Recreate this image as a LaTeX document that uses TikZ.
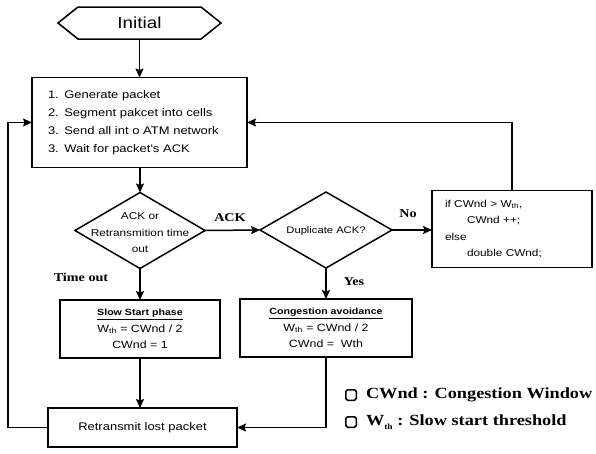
\documentclass[tikz,border=0pt]{standalone}
\usepackage{fontspec}
\setmainfont{Liberation Serif}[FakeStretch=1.18]
\newfontfamily\bx{Liberation Sans}[FakeStretch=1.18]
\usetikzlibrary{shapes.geometric,arrows.meta}
\begin{document}
\begin{tikzpicture}[x=1pt,y=-1pt,
  every node/.style={inner sep=0pt, outer sep=0pt},
  line width=1.5pt, line join=miter,
  arr/.style={-{Stealth[length=9pt,width=8pt,inset=1.5pt]}},
  box/.style={draw, rectangle, line width=1.5pt},
  dia/.style={draw, diamond, line width=1.5pt, minimum width=130pt, minimum height=76pt},
  btxt/.style={font=\bx\fontsize{11}{18}\selectfont},
  stxt/.style={font=\bx\fontsize{10}{16.5}\selectfont, align=center},
  lbl/.style={font=\bfseries\fontsize{12}{14}\selectfont},
  lgd/.style={font=\bfseries\fontsize{15.5}{17}\selectfont, anchor=west},
  sq/.style={draw, minimum size=10.5pt, rounded corners=1.8pt, line width=1.5pt}]
\useasboundingbox (0,0) rectangle (596,453);

% Initial hexagon
\node[minimum width=163pt, minimum height=32pt, font=\bx\fontsize{16}{16}\selectfont] (init) at (139.5,23) {Initial};
\draw (init.west) -- ([xshift=20pt]init.north west) -- ([xshift=-20pt]init.north east)
  -- (init.east) -- ([xshift=-20pt]init.south east) -- ([xshift=20pt]init.south west) -- cycle;

% Main box
\node[box, btxt, minimum width=215pt, minimum height=90pt, text width=183pt, align=left] (b1) at (139.5,122.5)
  {1. Generate packet\\2. Segment pakcet into cells\\3. Send all int o ATM network\\3. Wait for packet's ACK};

% Diamonds
\node[dia] (d1) at (140,230.5) {};
\node[stxt] (d1t) at (140,233) {ACK or\\Retransmition time\\out};
\node[dia, minimum width=132pt] (d2) at (326,230) {};
\node[font=\bx\fontsize{9.5}{12}\selectfont] (d2t) at (326,231) {Duplicate ACK?};

% Update box
\node[box, font=\bx\fontsize{10}{16.5}\selectfont, minimum width=160pt, minimum height=77pt, text width=134pt, align=left] (b3) at (512,229)
  {if CWnd > W\textsubscript{th},\\\hspace*{22pt}CWnd ++;\\else\\\hspace*{22pt}double CWnd;};

% Slow start and congestion avoidance
\node[box, stxt, font=\bx\fontsize{10.5}{16.5}\selectfont, minimum width=160pt, minimum height=58pt] (ss) at (140,329)
  {{\fontsize{9}{16.5}\selectfont\bfseries\underline{Slow Start phase}}\\W\textsubscript{th} = CWnd / 2\\CWnd = 1};
\node[box, stxt, font=\bx\fontsize{10.5}{16.5}\selectfont, minimum width=172pt, minimum height=58pt] (ca) at (326,328)
  {{\fontsize{9}{16.5}\selectfont\bfseries\underline{Congestion avoidance}}\\W\textsubscript{th} = CWnd / 2\\CWnd =\ \ Wth};

% Retransmit
\node[box, btxt, minimum width=189pt, minimum height=39pt] (rt) at (142.5,427.5) {Retransmit lost packet};

% Labels
\node[lbl] (lack) at (230,218) {ACK};
\node[lbl] (lno) at (408,214) {No};
\node[lbl] (lto) at (81,277) {Time out};
\node[lbl] (lyes) at (354,282) {Yes};

% Connectors
\draw[arr] (init.south) -- (b1.north);
\draw[arr] (b1.south -| d1.north) -- (d1.north);
\draw[arr] (d1.east) -- (d2.west);
\draw[arr] (d2.east) -- (d2.east -| b3.west);
\draw[arr] (b3.north) |- (b1.east);
\draw[arr] (d1.south) -- (ss.north);
\draw[arr] (d2.south) -- (ca.north);
\draw[arr] (ss.south) -- (ss.south |- rt.north);
\draw[arr] (ca.south) |- (rt.east);
\coordinate (lx) at (8,427.5);
\draw[arr] (rt.west) -- (lx) |- (b1.west);

% Legend
\node[sq] (sq1) at (351,395) {};
\node[lgd] (lg1) at (366,395) {CWnd : Congestion Window};
\node[sq] (sq2) at (351,422) {};
\node[lgd] (lg2) at (366,422) {W\raisebox{-4pt}{\fontsize{8}{8}\selectfont th} : Slow start threshold};
\end{tikzpicture}
\end{document}
